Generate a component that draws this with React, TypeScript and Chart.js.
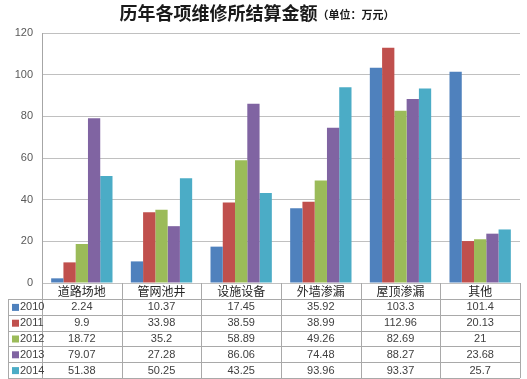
import React, { useEffect, useRef } from "react";
import { Chart, registerables } from "chart.js";

Chart.register(...registerables);

const categories = ["道路场地", "管网池井", "设施设备", "外墙渗漏", "屋顶渗漏", "其他"];
const years = ["2010", "2011", "2012", "2013", "2014"];
const v2010 = [2.24, 10.37, 17.45, 35.92, 103.3, 101.4];
const v2011 = [9.9, 33.98, 38.59, 38.99, 112.96, 20.13];
const v2012 = [18.72, 35.2, 58.89, 49.26, 82.69, 21];
const v2013 = [79.07, 27.28, 86.06, 74.48, 88.27, 23.68];
const v2014 = [51.38, 50.25, 43.25, 93.96, 93.37, 25.7];
const seriesValues = [v2010, v2011, v2012, v2013, v2014];
const tableLabels = [
  ["2.24", "10.37", "17.45", "35.92", "103.3", "101.4"],
  ["9.9", "33.98", "38.59", "38.99", "112.96", "20.13"],
  ["18.72", "35.2", "58.89", "49.26", "82.69", "21"],
  ["79.07", "27.28", "86.06", "74.48", "88.27", "23.68"],
  ["51.38", "50.25", "43.25", "93.96", "93.37", "25.7"],
];
const colors = ["#4F81BD", "#C0504D", "#9BBB59", "#8064A2", "#4BACC6"];
const titleMain = "历年各项维修所结算金额";
const titleUnit = "（单位：万元）";

const HEADER_H = 16;
const ROW_H = 15.8;
const TABLE_LEFT = 8;

const tablePlugin = {
  id: "tablePlugin",
  afterDraw(chart: any) {
    const ctx = chart.ctx;
    const area = chart.chartArea;
    const xs = chart.scales.x;
    const top = area.bottom;
    const headerBottom = top + HEADER_H;
    const bottom = headerBottom + ROW_H * years.length;
    const n = categories.length;
    const half = (xs.getPixelForValue(1) - xs.getPixelForValue(0)) / 2;
    ctx.save();
    ctx.strokeStyle = "#a9a9a9";
    ctx.lineWidth = 1;
    // horizontal lines
    for (let r = 0; r <= years.length; r++) {
      const y = Math.round(headerBottom + r * ROW_H) + 0.5;
      ctx.beginPath();
      ctx.moveTo(TABLE_LEFT, y);
      ctx.lineTo(area.right, y);
      ctx.stroke();
    }
    // vertical lines
    ctx.beginPath();
    ctx.moveTo(TABLE_LEFT + 0.5, headerBottom);
    ctx.lineTo(TABLE_LEFT + 0.5, bottom);
    ctx.stroke();
    for (let i = 0; i <= n; i++) {
      const x = Math.round(xs.getPixelForValue(i) - half) + 0.5;
      ctx.beginPath();
      ctx.moveTo(x, top);
      ctx.lineTo(x, bottom);
      ctx.stroke();
    }
    // header text
    ctx.fillStyle = "#262626";
    ctx.font = "12px 'Noto Sans CJK SC'";
    ctx.textAlign = "center";
    ctx.textBaseline = "middle";
    categories.forEach((c, i) => {
      ctx.fillText(c, xs.getPixelForValue(i), top + HEADER_H / 2 + 0.5);
    });
    // rows
    ctx.font = "11px 'Liberation Sans'";
    years.forEach((yr, r) => {
      const cy = headerBottom + r * ROW_H + ROW_H / 2 + 0.5;
      ctx.fillStyle = colors[r];
      ctx.fillRect(TABLE_LEFT + 4, cy - 3.5, 7, 7);
      ctx.fillStyle = "#404040";
      ctx.textAlign = "left";
      ctx.fillText(yr, TABLE_LEFT + 12, cy);
      ctx.textAlign = "center";
      tableLabels[r].forEach((t, i) => {
        ctx.fillText(t, xs.getPixelForValue(i), cy);
      });
    });
    // title
    ctx.textBaseline = "alphabetic";
    ctx.textAlign = "left";
    ctx.fillStyle = "#1a1a1a";
    ctx.font = "bold 18px 'Noto Sans CJK SC'";
    const w1 = ctx.measureText(titleMain).width;
    ctx.font = "bold 11px 'Noto Sans CJK SC'";
    const w2 = ctx.measureText(titleUnit).width;
    const startX = 257 - (w1 + w2) / 2;
    ctx.font = "bold 18px 'Noto Sans CJK SC'";
    ctx.fillText(titleMain, startX, 20);
    ctx.font = "bold 11px 'Noto Sans CJK SC'";
    ctx.fillText(titleUnit, startX + w1, 19);
    ctx.restore();
  },
};

export default function App() {
  const ref = useRef<HTMLCanvasElement>(null);
  useEffect(() => {
    const chart = new Chart(ref.current as HTMLCanvasElement, {
      type: "bar",
      data: {
        labels: categories,
        datasets: years.map((y, i) => ({
          label: y,
          data: seriesValues[i],
          backgroundColor: colors[i],
          borderWidth: 0,
          categoryPercentage: 0.77,
          barPercentage: 1,
        })),
      },
      options: {
        animation: false,
        responsive: false,
        maintainAspectRatio: false,
        layout: { padding: { left: 0, right: 7, top: 33, bottom: 96 } },
        plugins: { legend: { display: false }, title: { display: false }, tooltip: { enabled: false } },
        scales: {
          x: { display: false },
          y: {
            min: 0,
            max: 120,
            ticks: { stepSize: 20, padding: 9, color: "#595959", font: { family: "Liberation Sans", size: 11 } },
            grid: { color: "#c0c0c0", drawTicks: false },
            border: { display: true, color: "#a6a6a6" },
            afterFit: (scale: any) => {
              scale.width = 42;
            },
          },
        },
      },
      plugins: [tablePlugin],
    });
    return () => chart.destroy();
  }, []);
  return (
    <div style={{ position: "fixed", left: 0, top: 0, width: 527, height: 379, background: "#fff" }}>
      <canvas ref={ref} width={527} height={379} style={{ width: 527, height: 379 }} />
    </div>
  );
}
